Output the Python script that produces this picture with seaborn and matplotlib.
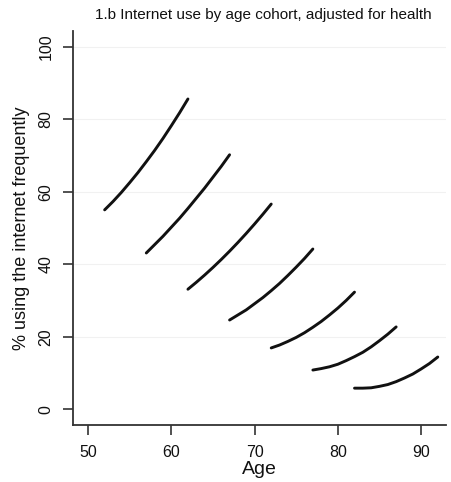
import matplotlib
matplotlib.use("Agg")
import matplotlib.pyplot as plt
import seaborn as sns
import pandas as pd

# Data (one curve per birth cohort, yearly readings)
cohort_start_age = {"c1": 52, "c2": 57, "c3": 62, "c4": 67, "c5": 72, "c6": 77, "c7": 82}
cohort_pct = {
    "c1": [55.0, 57.3, 59.8, 62.5, 65.3, 68.3, 71.4, 74.7, 78.2, 81.8, 85.6],
    "c2": [43.1, 45.4, 47.7, 50.2, 52.7, 55.4, 58.2, 61.0, 64.0, 67.0, 70.2],
    "c3": [33.1, 35.0, 37.0, 39.1, 41.3, 43.6, 46.0, 48.5, 51.1, 53.8, 56.6],
    "c4": [24.6, 26.0, 27.4, 29.1, 30.8, 32.7, 34.7, 36.9, 39.2, 41.6, 44.2],
    "c5": [16.9, 17.7, 18.7, 19.8, 21.1, 22.6, 24.2, 26.0, 27.9, 30.0, 32.3],
    "c6": [10.8, 11.2, 11.7, 12.4, 13.4, 14.5, 15.7, 17.2, 18.9, 20.7, 22.7],
    "c7": [5.8, 5.8, 5.9, 6.3, 6.8, 7.6, 8.6, 9.7, 11.1, 12.6, 14.4],
}
x_ticks = [50, 60, 70, 80, 90]
y_ticks = [0, 20, 40, 60, 80, 100]
title = "1.b Internet use by age cohort, adjusted for health"
xlabel = "Age"
ylabel = "% using the internet frequently"

rows = []
for c, start in cohort_start_age.items():
    for i, p in enumerate(cohort_pct[c]):
        rows.append({"cohort": c, "age": start + i, "pct": p})
df = pd.DataFrame(rows)

sns.set_theme(style="white")
plt.rcParams["font.family"] = ["Liberation Sans", "DejaVu Sans"]
plt.rcParams["text.color"] = "#111111"
plt.rcParams["axes.labelcolor"] = "#111111"
plt.rcParams["xtick.color"] = "#111111"
plt.rcParams["ytick.color"] = "#111111"

fig = plt.figure(figsize=(4.52, 4.82), dpi=100)
ax = fig.add_axes([0.1615, 0.118, 0.987 - 0.1615, 0.936 - 0.118])

for y in [20, 40, 60, 80, 100]:
    ax.axhline(y, color="#f1f1f1", lw=0.8, zorder=0)

sns.lineplot(data=df, x="age", y="pct", hue="cohort",
             palette=["#111111"] * 7, legend=False, linewidth=2.1,
             ax=ax, estimator=None, sort=True)

ax.set_xlim(48.2, 93)
ax.set_ylim(-4.4, 104.4)
ax.set_xticks(x_ticks)
ax.set_yticks(y_ticks)
ax.set_xticklabels([str(t) for t in x_ticks], fontsize=11.5)
ax.set_yticklabels([str(t) for t in y_ticks], fontsize=11.5, rotation=90, va="center")
ax.tick_params(axis="x", direction="out", length=7, width=1.2, color="#333333",
               labelcolor="#111111", bottom=True, pad=7)
ax.tick_params(axis="y", direction="out", length=7, width=1.2, color="#333333",
               labelcolor="#111111", left=True, pad=7)
ax.set_xlabel(xlabel, fontsize=14, labelpad=1, color="#111111")
ax.set_ylabel(ylabel, fontsize=13, labelpad=6, color="#111111")
for s in ["top", "right"]:
    ax.spines[s].set_visible(False)
for s in ["left", "bottom"]:
    ax.spines[s].set_color("#333333")
    ax.spines[s].set_linewidth(1.3)
fig.text(0.582, 0.968, title, ha="center", va="center", fontsize=11, color="#111111")

fig.savefig("out.png", dpi=100)
